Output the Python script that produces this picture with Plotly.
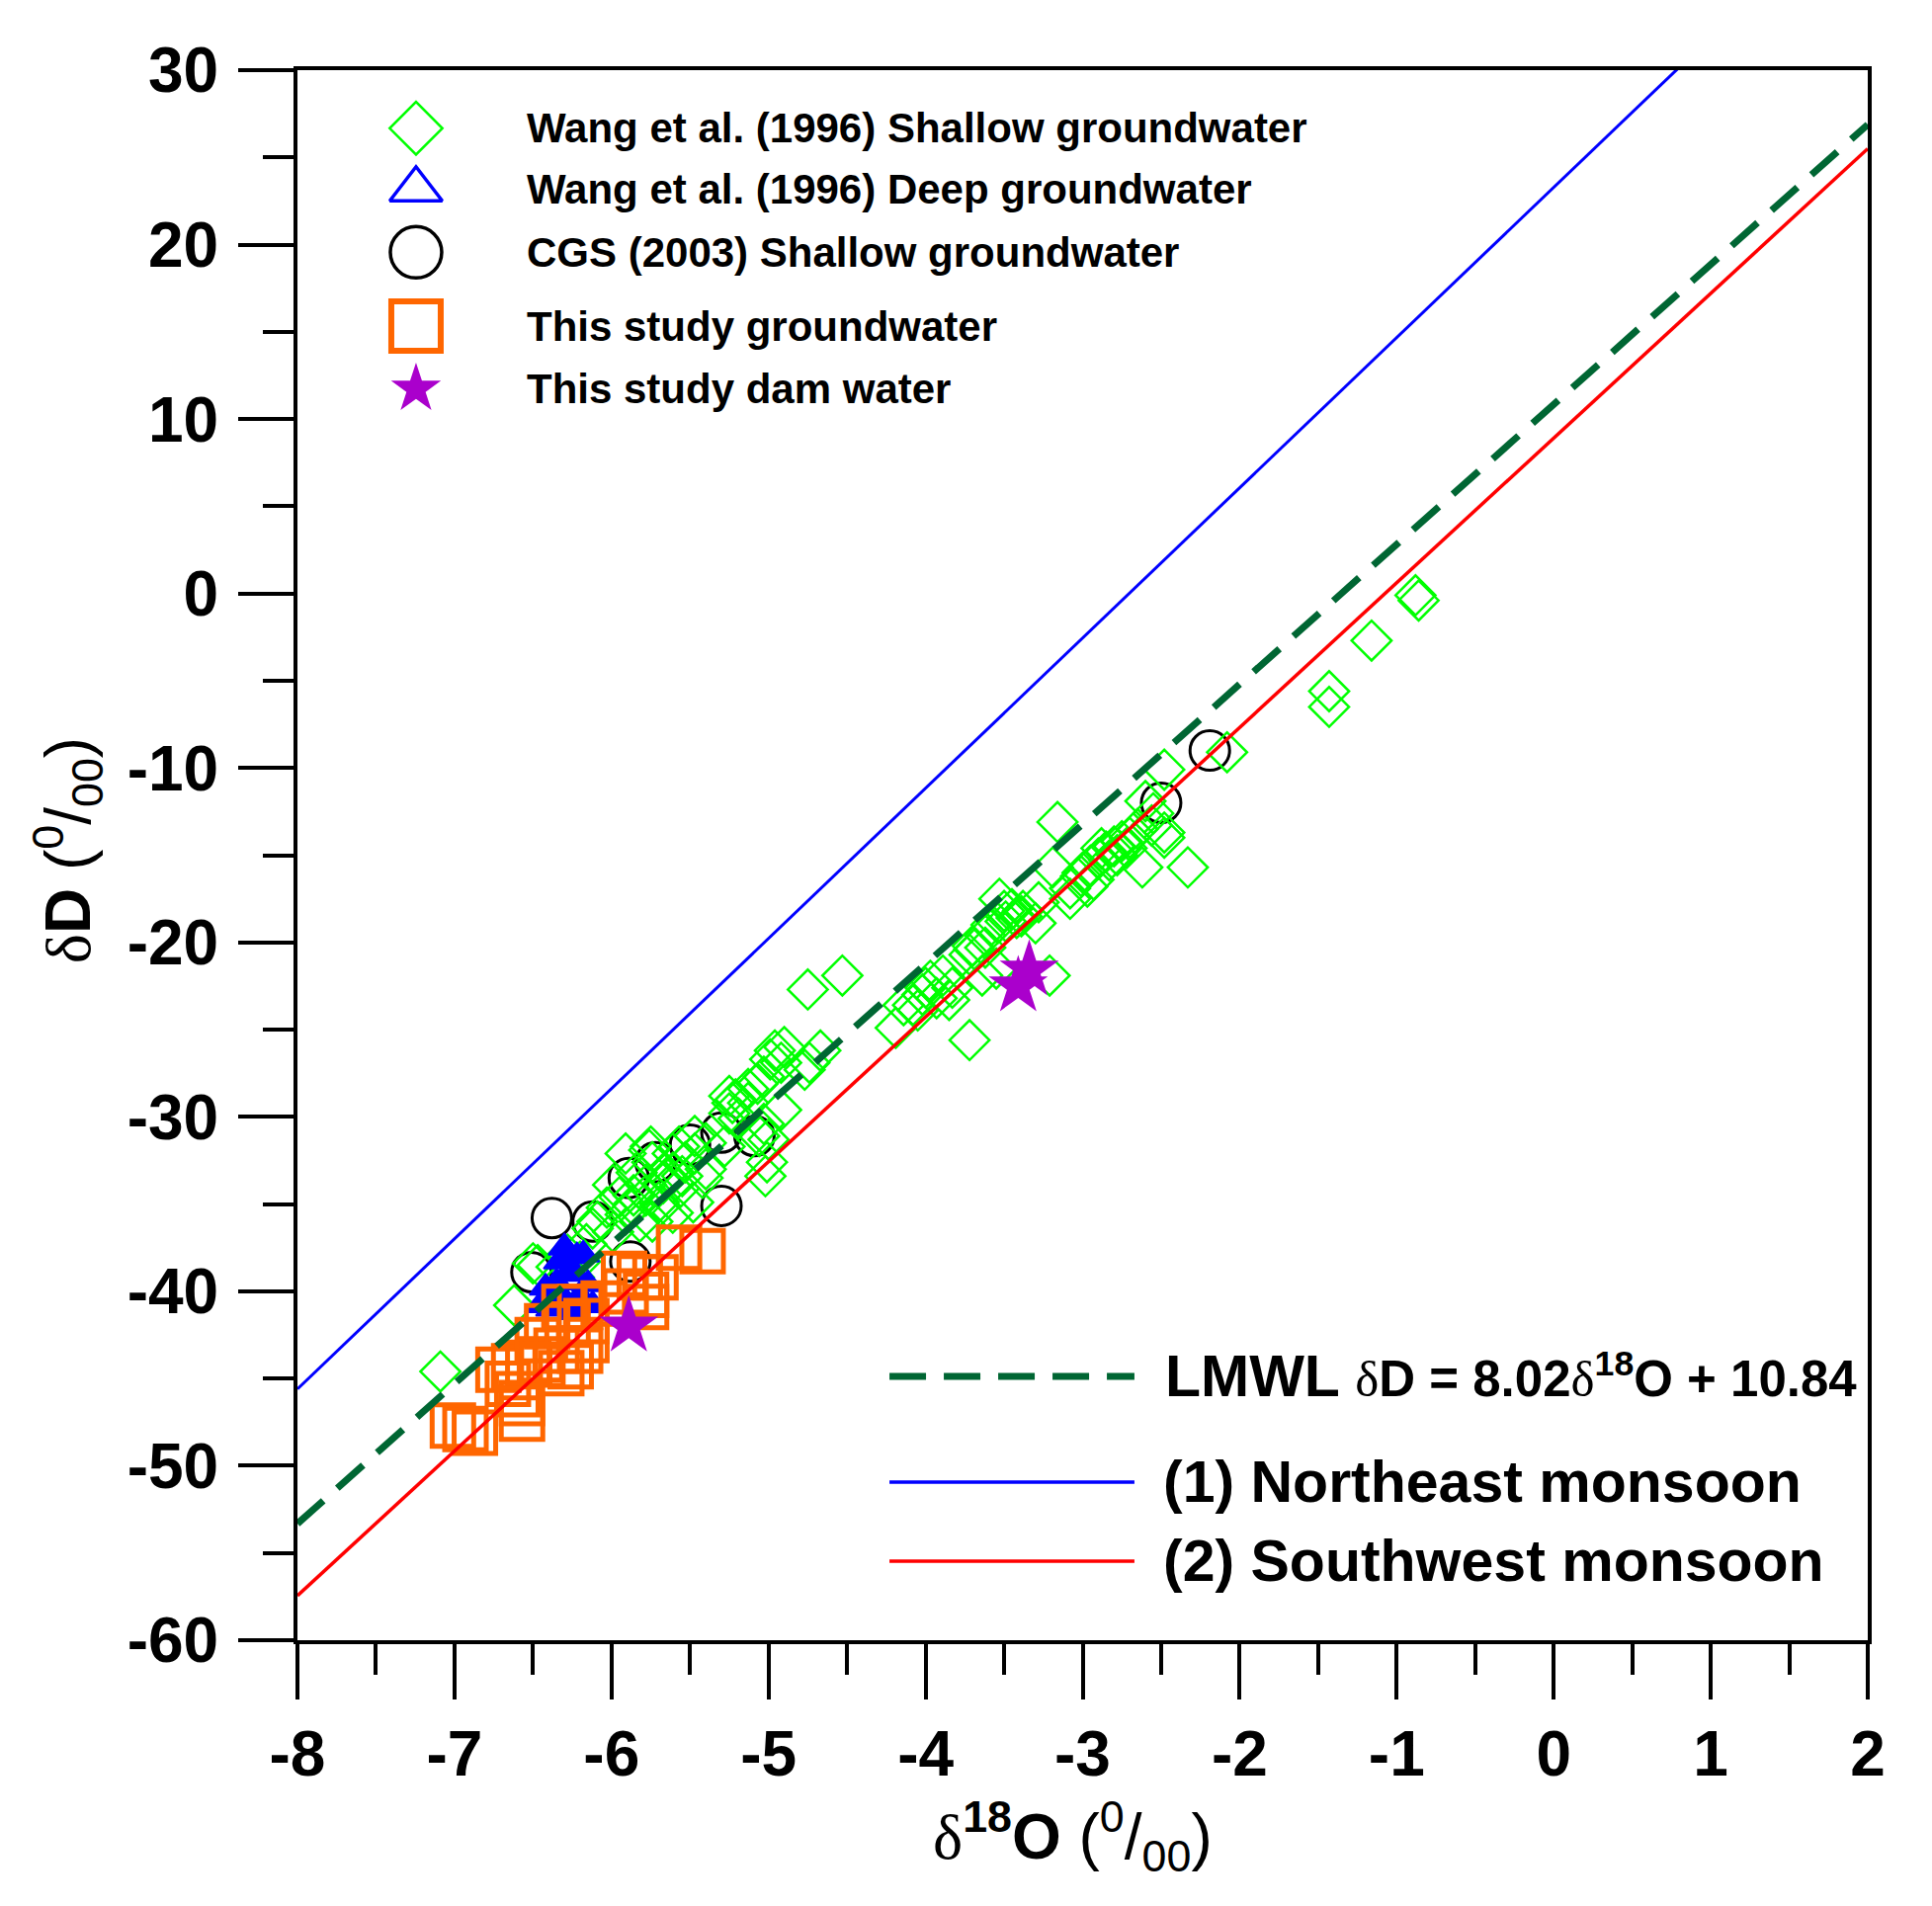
import plotly.graph_objects as go

FONT = "Liberation Sans, Arial, sans-serif"

# ---- data ----
# Wang et al. (1996) shallow groundwater
wang_shallow_o18 = [-0.88, -0.86, -1.16, -1.43, -1.43, -2.08, -2.48, -2.60, -2.48, -2.33,
                    -2.62, -3.16, -3.19, -2.55, -2.65, -2.90, -2.85, -2.80, -2.75, -2.70,
                    -2.78, -2.95, -2.88, -2.83, -2.72, -3.01, -2.97, -3.08, -3.08, -3.00,
                    -2.93, -3.28, -3.21, -3.53, -3.45, -3.39, -3.49, -3.58, -3.30, -3.70,
                    -3.62, -3.72, -3.55, -3.64, -3.69, -3.89, -3.97, -3.83, -4.02, -3.93,
                    -3.85, -4.08, -4.14, -4.00, -3.72, -4.19, -4.75, -4.53, -4.96, -4.90,
                    -4.99, -4.92, -4.67, -4.74, -4.77, -5.13, -5.07, -5.25, -5.13, -4.92,
                    -5.23, -5.25, -5.03, -5.00, -5.75, -5.57, -5.47, -5.03, -5.21, -5.19,
                    -5.06, -5.02, -5.28, -5.40, -5.53, -5.61, -5.65, -5.76, -5.78, -5.86,
                    -5.99, -6.03, -6.09, -5.91, -5.70, -5.57, -5.40, -5.48, -5.74, -5.91,
                    -5.74, -5.61, -5.47, -5.42, -5.78, -5.86, -5.99, -6.16, -6.28, -6.47,
                    -6.35, -6.24, -6.20, -5.82, -5.69, -5.61, -5.67, -7.09, -6.62, -6.50,
                    -5.01, -3.50, -3.42, -3.38, -2.56, -2.48, -3.62, -3.54, -4.05, -5.95,
                    -5.84, -6.12, -5.55]
wang_shallow_d = [-0.1, -0.4, -2.7, -5.6, -6.5, -9.1, -10.1, -11.9, -13.7, -15.7,
                  -15.7, -13.1, -15.7, -12.6, -13.5, -15.2, -14.8, -14.5, -14.2, -14.0,
                  -15.0, -15.6, -14.6, -15.3, -14.6, -16.2, -16.8, -16.9, -17.5, -16.0,
                  -16.4, -17.7, -21.9, -17.5, -18.1, -18.5, -18.8, -19.0, -18.9, -20.2,
                  -20.3, -20.7, -21.5, -21.9, -20.4, -21.9, -22.2, -22.6, -23.0, -23.2,
                  -23.3, -23.6, -23.6, -22.6, -25.6, -24.9, -22.7, -21.9, -26.2, -26.0,
                  -26.7, -26.9, -26.2, -26.9, -27.3, -28.4, -28.1, -28.8, -29.2, -29.6,
                  -29.2, -29.8, -30.4, -31.3, -31.7, -31.7, -31.1, -27.7, -29.0, -30.1,
                  -31.1, -33.4, -31.7, -31.5, -32.6, -32.1, -33.5, -31.9, -33.9, -34.5,
                  -33.9, -35.2, -36.0, -35.6, -34.9, -34.1, -33.0, -34.9, -36.0, -32.1,
                  -32.6, -33.2, -32.1, -33.5, -34.5, -35.1, -36.6, -37.3, -37.9, -38.5,
                  -38.6, -39.2, -38.3, -36.0, -35.1, -35.5, -33.8, -44.6, -40.8, -38.4,
                  -32.6, -18.2, -18.6, -18.2, -13.3, -14.0, -19.6, -18.9, -23.9, -34.6,
                  -33.2, -36.4, -33.4]

# Wang et al. (1996) deep groundwater
wang_deep_o18 = [-6.30, -6.22, -6.25, -6.35, -6.40, -6.30, -6.20, -6.15, -6.45, -6.28,
                 -6.12, -6.38, -6.33, -6.24, -6.42, -6.18]
wang_deep_d = [-37.5, -38.0, -38.8, -39.5, -40.2, -40.5, -40.3, -39.6, -40.8, -39.0,
               -40.8, -41.0, -38.3, -41.2, -39.8, -37.9]

# CGS (2003) shallow groundwater
cgs_o18 = [-2.19, -2.50, -5.30, -5.09, -5.50, -5.72, -5.89, -5.30, -6.38, -6.12, -6.51, -5.88]
cgs_d = [-9.0, -12.0, -30.9, -31.1, -31.6, -32.6, -33.5, -35.1, -35.8, -36.0, -38.9, -38.3]

# This study groundwater
study_gw_o18 = [-6.93, -7.01, -6.87, -6.57, -6.57, -6.66, -6.72, -6.62, -6.53, -6.45,
                -6.32, -6.26, -6.35, -6.20, -6.16, -6.47, -6.41, -6.28, -6.16, -6.30,
                -6.20, -5.91, -5.78, -5.78, -5.92, -5.82, -5.72, -5.57, -5.42, -6.05,
                -6.60, -6.44]
study_gw_d = [-47.9, -47.7, -48.1, -47.3, -46.4, -45.3, -44.5, -44.3, -44.1, -43.9,
              -44.7, -44.3, -43.4, -43.4, -42.8, -42.8, -42.0, -41.9, -41.7, -40.9,
              -40.9, -40.0, -40.2, -40.9, -39.0, -39.2, -39.2, -37.5, -37.7, -40.7,
              -45.9, -44.2]

# This study dam water
study_dam_o18 = [-5.89, -3.34, -3.41]
study_dam_d = [-42.0, -21.6, -22.5]

# water lines (end points at the axis limits)
line_o18 = [-8, 2]
lmwl_d = [-53.32, 26.88]
ne_monsoon_d = [-45.6, 40.5]
sw_monsoon_d = [-57.45, 25.5]

x_ticks = [-8, -7, -6, -5, -4, -3, -2, -1, 0, 1, 2]
y_ticks = [-60, -50, -40, -30, -20, -10, 0, 10, 20, 30]

legend_names = ["Wang et al. (1996) Shallow groundwater",
                "Wang et al. (1996) Deep groundwater",
                "CGS (2003) Shallow groundwater",
                "This study groundwater",
                "This study dam water"]

GREEN = "#00FF00"
BLUE = "#0000FF"
ORANGE = "#FF6600"
PURPLE = "#AA00CC"
DKGREEN = "#006633"

fig = go.Figure()

fig.add_trace(go.Scatter(x=cgs_o18, y=cgs_d, mode="markers",
                         marker=dict(symbol="circle-open", size=40, color="black",
                                     line=dict(width=3, color="black"))))
fig.add_trace(go.Scatter(x=wang_shallow_o18, y=wang_shallow_d, mode="markers",
                         marker=dict(symbol="diamond-open", size=31, color=GREEN,
                                     line=dict(width=2.5, color=GREEN))))
# the deep-water triangles overlap into a solid blue patch
fig.add_trace(go.Scatter(x=wang_deep_o18, y=wang_deep_d, mode="markers",
                         marker=dict(symbol="triangle-up", size=28, color=BLUE,
                                     line=dict(width=2, color=BLUE))))
fig.add_trace(go.Scatter(x=study_gw_o18, y=study_gw_d, mode="markers",
                         marker=dict(symbol="square-open", size=42, color=ORANGE,
                                     line=dict(width=5, color=ORANGE))))

fig.add_trace(go.Scatter(x=line_o18, y=lmwl_d, mode="lines",
                         line=dict(color=DKGREEN, width=7, dash="35px,19px")))
fig.add_trace(go.Scatter(x=line_o18, y=ne_monsoon_d, mode="lines",
                         line=dict(color=BLUE, width=3)))
fig.add_trace(go.Scatter(x=line_o18, y=sw_monsoon_d, mode="lines",
                         line=dict(color="#FF0000", width=3.5)))

fig.add_trace(go.Scatter(x=study_dam_o18, y=study_dam_d, mode="markers",
                         marker=dict(symbol="star", size=45, color=PURPLE,
                                     line=dict(width=0))))

# legend keys on a hidden overlay axis (0..1 over the plot area)
key_x = 0.0755
key_y = [0.963, 0.924, 0.884, 0.837, 0.797]
key_styles = [
    dict(symbol="diamond-open", size=41, color=GREEN, line=dict(width=2.5, color=GREEN)),
    dict(symbol="triangle-up-open", size=46, color=BLUE, line=dict(width=3.5, color=BLUE)),
    dict(symbol="circle-open", size=52, color="black", line=dict(width=3.5, color="black")),
    dict(symbol="square-open", size=50, color=ORANGE, line=dict(width=6, color=ORANGE)),
    dict(symbol="star", size=38, color=PURPLE, line=dict(width=0)),
]
for ky, st in zip(key_y, key_styles):
    fig.add_trace(go.Scatter(x=[key_x], y=[ky], mode="markers", marker=st,
                             xaxis="x2", yaxis="y2", cliponaxis=False))

annotations = []
for ky, name in zip(key_y, legend_names):
    annotations.append(dict(x=0.145, y=ky, xref="paper", yref="paper", text=name,
                            showarrow=False, xanchor="left", yanchor="middle",
                            font=dict(family=FONT, size=42, color="black", weight="bold")))

# lower-right line legend
shape_x0, shape_x1 = 0.377, 0.533
line_key_y = [0.168, 0.1007, 0.0503]
shapes = [
    dict(type="line", xref="paper", yref="paper", x0=shape_x0, x1=shape_x1,
         y0=line_key_y[0], y1=line_key_y[0], line=dict(color=DKGREEN, width=7, dash="37px,18px")),
    dict(type="line", xref="paper", yref="paper", x0=shape_x0, x1=shape_x1,
         y0=line_key_y[1], y1=line_key_y[1], line=dict(color=BLUE, width=3.5)),
    dict(type="line", xref="paper", yref="paper", x0=shape_x0, x1=shape_x1,
         y0=line_key_y[2], y1=line_key_y[2], line=dict(color="#FF0000", width=3.5)),
]
line_texts = [
    "LMWL <span style='font-size:51px'><span style='font-family:Liberation Serif;font-weight:normal'>δ</span>D = 8.02"
    "<span style='font-family:Liberation Serif;font-weight:normal'>δ</span><sup>18</sup>O + 10.84</span>",
    "(1) Northeast monsoon",
    "(2) Southwest monsoon",
]
line_text_x = [0.551, 0.55, 0.55]
for tx, ty, t in zip(line_text_x, line_key_y, line_texts):
    annotations.append(dict(x=tx, y=ty, xref="paper", yref="paper", text=t,
                            showarrow=False, xanchor="left", yanchor="middle",
                            font=dict(family=FONT, size=59, color="black", weight="bold")))

# axis titles
annotations.append(dict(
    x=0.494, y=-0.1246, xref="paper", yref="paper", showarrow=False,
    xanchor="center", yanchor="middle",
    text="<span style='font-family:Liberation Serif;font-weight:normal'>δ</span><sup>18</sup>O "
         "<span style='font-weight:normal'>(<sup>0</sup>/<sub>00</sub>)</span>",
    font=dict(family=FONT, size=64, color="black", weight="bold")))
annotations.append(dict(
    x=-0.147, y=0.503, xref="paper", yref="paper", showarrow=False, textangle=-90,
    xanchor="center", yanchor="middle",
    text="<span style='font-family:Liberation Serif;font-weight:normal'>δ</span>D "
         "<span style='font-weight:normal'>(<sup>0</sup>/<sub>00</sub>)</span>",
    font=dict(family=FONT, size=64, color="black", weight="bold")))

tick_font = dict(family=FONT, size=64, color="black", weight="bold")
axis_common = dict(
    showline=True, linewidth=4, linecolor="black", mirror=True,
    showgrid=False, zeroline=False,
    ticks="outside", ticklen=56, tickwidth=3.5, tickcolor="black",
    tickfont=tick_font, tickmode="array",
)

# the page body adds an 8px offset, so the margins are trimmed by it
fig.update_layout(
    width=1955, height=1929,
    margin=dict(l=293, r=73, t=63, b=277),
    plot_bgcolor="white", paper_bgcolor="white",
    showlegend=False,
    xaxis=dict(range=[-8, 2], tickvals=x_ticks, ticktext=[str(v) for v in x_ticks],
               ticklabelstandoff=0,
               minor=dict(tickmode="linear", tick0=0, dtick=0.5, ticks="outside",
                          ticklen=31, tickwidth=3.5, tickcolor="black", showgrid=False),
               **axis_common),
    yaxis=dict(range=[-60, 30], tickvals=y_ticks, ticktext=[str(v) for v in y_ticks],
               ticklabelstandoff=7,
               minor=dict(tickmode="linear", tick0=0, dtick=5, ticks="outside",
                          ticklen=31, tickwidth=3.5, tickcolor="black", showgrid=False),
               **axis_common),
    xaxis2=dict(overlaying="x", anchor="y2", range=[0, 1], visible=False),
    yaxis2=dict(overlaying="y", anchor="x2", range=[0, 1], visible=False),
    annotations=annotations,
    shapes=shapes,
)

fig.write_html("out.html")
